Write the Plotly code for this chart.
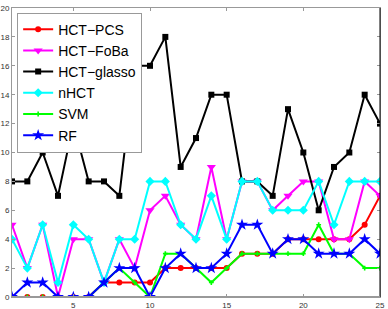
import plotly.graph_objects as go

x = list(range(1, 26))
hct_pcs    = [0, 0, 0, 0, 0, 0, 1, 1, 1, 1, 2, 2, 2, 2, 2, 3, 3, 3, 4, 4, 4, 4, 4, 5, 7]
hct_foba   = [5, 2, 5, 0, 4, 4, 1, 4, 2, 6, 7, 5, 4, 9, 4, 8, 8, 6, 7, 8, 8, 4, 4, 8, 7]
hct_glasso = [8, 8, 10, 7, 12, 8, 8, 7, 16, 16, 18, 9, 11, 14, 14, 8, 8, 7, 13, 10, 6, 9, 10, 14, 12]
nhct       = [4, 2, 5, 1, 5, 4, 1, 4, 4, 8, 8, 5, 4, 7, 4, 8, 8, 6, 6, 6, 8, 5, 8, 8, 8]
svm        = [0, 0, 0, 0, 0, 0, 1, 2, 1, 0, 3, 3, 2, 1, 2, 3, 3, 3, 3, 3, 5, 3, 3, 2, 2]
rf         = [0, 1, 1, 0, 0, 0, 1, 2, 2, 0, 2, 3, 2, 2, 3, 5, 5, 3, 4, 4, 3, 3, 3, 4, 3]

names = ["HCT\u2212PCS", "HCT\u2212FoBa", "HCT\u2212glasso", "nHCT", "SVM", "RF"]

series = [
    (names[0], hct_pcs, "#ff0000", "circle", 6),
    (names[1], hct_foba, "#ff00ff", "triangle-down", 8),
    (names[2], hct_glasso, "#000000", "square", 6),
    (names[3], nhct, "#00ffff", "diamond", 7),
    (names[4], svm, "#00ff00", "cross", 4),
    (names[5], rf, "#0000ff", "star", 9),
]

fig = go.Figure()
for name, vals, color, sym, sz in series:
    fig.add_trace(go.Scatter(
        x=x, y=vals, name=name, mode="lines+markers",
        line=dict(color=color, width=2),
        marker=dict(symbol=sym, size=sz, color=color, line=dict(width=0)),
    ))

fig.update_layout(
    width=388, height=309,
    margin=dict(l=12, r=8, t=8, b=12),
    paper_bgcolor="white", plot_bgcolor="white",
    font=dict(family="Liberation Sans, Arial, sans-serif", size=8, color="#333333"),
    showlegend=True,
    legend=dict(
        x=0.014, y=0.984, xanchor="left", yanchor="top",
        bgcolor="white", bordercolor="#999999", borderwidth=1,
        font=dict(size=14, color="#000000"),
        tracegroupgap=0,
    ),
)
fig.update_xaxes(
    range=[1, 25], tick0=0, dtick=5, showgrid=False, zeroline=False,
    showline=True, linecolor="#999999", linewidth=1, mirror="ticks",
    ticks="inside", ticklen=3, tickcolor="#999999", automargin=False,
    ticklabelstandoff=0,
)
fig.update_yaxes(
    range=[0, 20], tick0=0, dtick=2, showgrid=False, zeroline=False,
    showline=True, linecolor="#999999", linewidth=1, mirror="ticks",
    ticks="inside", ticklen=3, tickcolor="#999999", ticklabelstandoff=0,
    automargin=False,
)
fig.add_shape(type="line", xref="paper", yref="paper", x0=1, x1=1, y0=0, y1=1,
              line=dict(color="#000000", width=1))
fig.add_shape(type="line", xref="paper", yref="paper", x0=0, x1=1, y0=0, y1=0,
              line=dict(color="#999999", width=2))

fig.write_html("out.html", config={"displayModeBar": False},
               post_script="document.body.style.margin='0';document.body.style.overflow='hidden';")
